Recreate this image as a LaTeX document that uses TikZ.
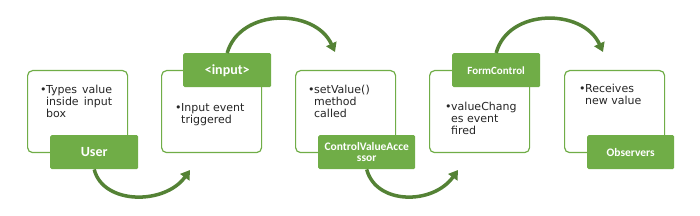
\documentclass[tikz,border=0pt]{standalone}
\usepackage{fontspec}
\setmainfont{DejaVu Sans}
\newfontfamily\lblfont{Carlito}
\usetikzlibrary{arrows.meta}
\definecolor{lgreen}{HTML}{70AD47}
\definecolor{dgreen}{HTML}{548235}
\begin{document}
\begin{tikzpicture}[x=1pt,y=-1pt,
 card/.style={draw=lgreen, line width=1.2pt, rounded corners=5pt, fill=white, minimum width=100pt, minimum height=82pt, anchor=north west, inner sep=0pt},
 tag/.style={fill=lgreen, rounded corners=1.5pt, minimum width=88pt, minimum height=34pt, anchor=north west, inner sep=1pt, text=white, align=center},
 bul/.style={anchor=base west, inner sep=0pt, font=\fontsize{11}{12}\selectfont, text=black!85},
 flow/.style={draw=dgreen, line width=3.5pt, -{Triangle[length=9pt,width=11pt]}}]
\useasboundingbox (0,0) rectangle (700,216);
% cards
\node[card] (c1) at (27,70) {};
\node[card] (c2) at (161,70) {};
\node[card] (c3) at (295,70) {};
\node[card] (c4) at (429,70) {};
\node[card] (c5) at (564,70) {};
% tags
\node[tag, font=\lblfont\bfseries\fontsize{14}{14}\selectfont] (user) at (50,135) {User};
\node[tag, font=\lblfont\bfseries\fontsize{14}{14}\selectfont] (inp) at (183,53) {<input>};
\node[tag, minimum width=97pt, font=\lblfont\bfseries\fontsize{11.5}{11}\selectfont] (cva) at (318,135) {ControlValueAcce\\ssor};
\node[tag, font=\lblfont\bfseries\fontsize{11}{12}\selectfont] (fc) at (452,53) {FormControl};
\node[tag, minimum width=87pt, font=\lblfont\bfseries\fontsize{11.5}{12}\selectfont] (obs) at (587,135) {Observers};
% texts
\node[bul] (t1) at (40,94) {\begin{tabular}[t]{@{}l@{\kern-0.5pt}l@{}}•&\makebox[66pt][s]{Types value}\\ &\makebox[66pt][s]{inside input}\\ &box\end{tabular}};
\node[bul] (t2) at (175,112) {\begin{tabular}[t]{@{}l@{\kern-0.5pt}l@{}}•&Input event\\ &triggered\end{tabular}};
\node[bul] (t3) at (308,94) {\begin{tabular}[t]{@{}l@{\kern-0.5pt}l@{}}•&setValue()\\ &method\\ &called\end{tabular}};
\node[bul] (t4) at (445,111) {\begin{tabular}[t]{@{}l@{\kern-0.5pt}l@{}}•&valueChang\\ &es event\\ &fired\end{tabular}};
\node[bul] (t5) at (579,93) {\begin{tabular}[t]{@{}l@{\kern-0.5pt}l@{}}•&Receives\\ &new value\end{tabular}};
% arrow ends
\coordinate (e1) at (190,170);
\coordinate (e2) at (335,52);
\coordinate (e3) at (458,170);
\coordinate (e4) at (603,52);
\draw[flow] (user.south) .. controls (103,205) and (165,205) .. (e1);
\draw[flow] (inp.north) .. controls (240,8) and (315,8) .. (e2);
\draw[flow] (cva.south) .. controls (376,205) and (433,205) .. (e3);
\draw[flow] (fc.north) .. controls (508,8) and (583,8) .. (e4);
\end{tikzpicture}
\end{document}
